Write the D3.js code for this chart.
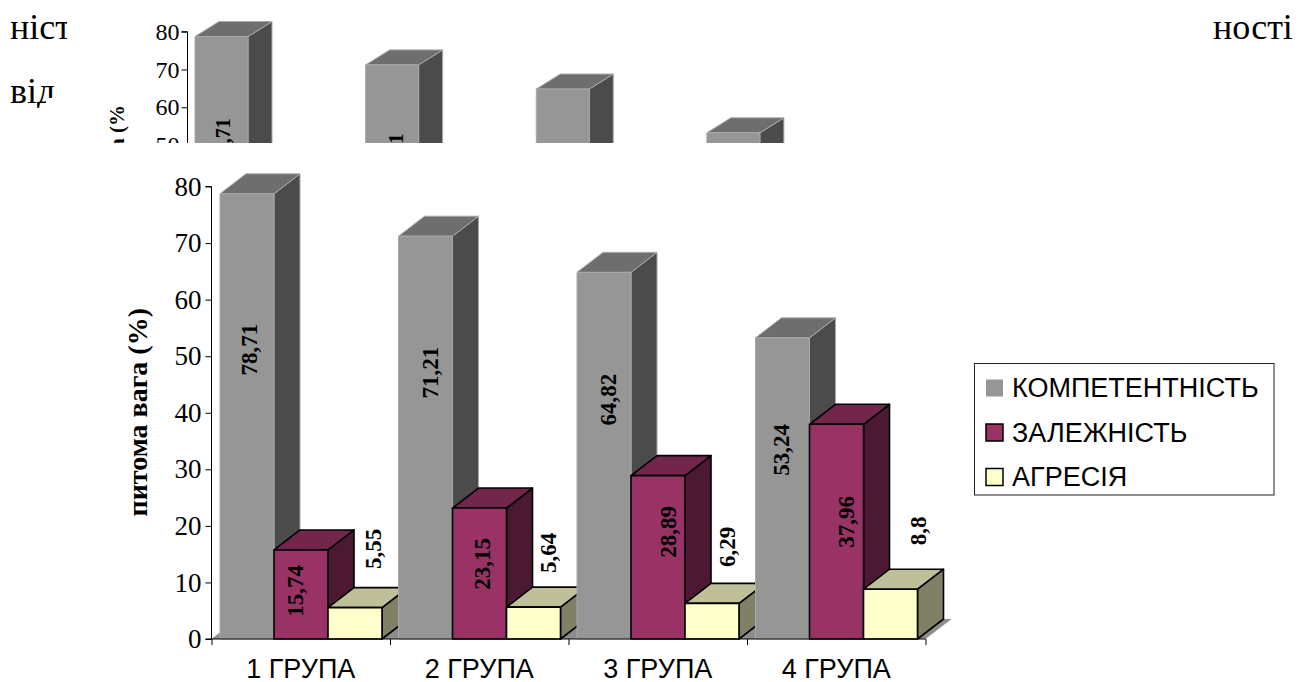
<!DOCTYPE html>
<html>
<head>
<meta charset="utf-8">
<script src="https://cdnjs.cloudflare.com/ajax/libs/d3/7.8.5/d3.min.js"></script>
<style>
html,body{margin:0;padding:0;background:#fff;}
svg{display:block;}
text{fill:#000;}
.serif{font-family:"Liberation Serif","Times New Roman",serif;}
.sans{font-family:"Liberation Sans",Arial,sans-serif;}
</style>
</head>
<body>
<svg id="c" width="1298" height="682"></svg>
<script>
// Share of each personality trait by study group, in percent.
const groups = ["1 ГРУПА", "2 ГРУПА", "3 ГРУПА", "4 ГРУПА"];
const seriesNames = ["КОМПЕТЕНТНІСТЬ", "ЗАЛЕЖНІСТЬ", "АГРЕСІЯ"];
const competence = [78.71, 71.21, 64.82, 53.24];
const dependence = [15.74, 23.15, 28.89, 37.96];
const aggression = [5.55, 5.64, 6.29, 8.8];
const yTicks = [0, 10, 20, 30, 40, 50, 60, 70, 80];
const seriesValues = [competence, dependence, aggression];

// Axis level at which each data label is centred, and its sideways offset from the bar centre.
const labelLevels = [
  [51.15, 47.08, 42.3, 33.45],
  [8.5, 13.27, 18.94, 20.7],
  [15.93, 15.22, 16.28, 19.1]
];
const labelNudges = [
  [2, 4.5, 4, -1.5],
  [-6, 2.5, 10, 9.5],
  [18, 14.5, 15, 27.5]
];
const palette = [
  {front: "#969696", top: "#6e6e6e", side: "#4b4b4b", edge: "#a8a8a8", edgeW: 1},
  {front: "#993366", top: "#72264c", side: "#4c1933", edge: "#000", edgeW: 1.6},
  {front: "#ffffcc", top: "#bfbf99", side: "#808066", edge: "#000", edgeW: 1.6}
];

const svg = d3.select("#c");
const comma = v => String(v).replace(".", ",");

function drawChart(root, o) {
  const y = d3.scaleLinear().domain([0, 80]).range([o.y0, o.y80]);
  const x = d3.scaleBand().domain(groups).range([o.x0, o.x1]);
  const inner = d3.scaleBand().domain(d3.range(seriesNames.length))
    .range([o.barOffset, o.barOffset + o.barWidth * 3]);
  const edges = d3.scaleLinear().domain([0, groups.length]).range([o.x0, o.x1]);

  // Floor of the 3D plot
  root.append("path")
    .attr("d", d3.line()([
      [o.x0, o.y0], [o.x0 + o.dx, o.y0 - o.dy],
      [o.x1 + o.dx, o.y0 - o.dy], [o.x1, o.y0]
    ]) + "Z")
    .attr("fill", "#8c8c8c");

  const bars = root.append("g");
  groups.forEach((g, gi) => {
    seriesValues.forEach((vals, si) => {
      const p = palette[si];
      const bx = x(g) + inner(si);
      const bw = inner.bandwidth();
      const ty = y(vals[gi]);
      const bar = bars.append("g")
        .attr("stroke", p.edge).attr("stroke-width", p.edgeW).attr("stroke-linejoin", "round");
      bar.append("path").attr("fill", p.side).attr("d", d3.line()([
        [bx + bw, ty], [bx + bw + o.dx, ty - o.dy], [bx + bw + o.dx, o.y0 - o.dy], [bx + bw, o.y0]
      ]) + "Z");
      bar.append("path").attr("fill", p.top).attr("d", d3.line()([
        [bx, ty], [bx + o.dx, ty - o.dy], [bx + bw + o.dx, ty - o.dy], [bx + bw, ty]
      ]) + "Z");
      bar.append("rect").attr("x", bx).attr("y", ty).attr("width", bw).attr("height", o.y0 - ty)
        .attr("fill", p.front);
    });
  });

  // Value labels, rotated along the bars
  seriesValues.forEach((vals, si) => {
    vals.forEach((v, gi) => {
      const lx = x(groups[gi]) + inner(si) + inner.bandwidth() / 2 + labelNudges[si][gi];
      root.append("text").attr("class", "serif")
        .attr("transform", `translate(${lx},${y(labelLevels[si][gi])}) rotate(-90)`)
        .attr("text-anchor", "middle").attr("dy", "0.34em")
        .attr("font-weight", "bold").attr("font-size", o.labelSize)
        .text(comma(v));
    });
  });

  // Value axis
  const yAxis = root.append("g").attr("transform", `translate(${o.x0},0)`)
    .call(d3.axisLeft(y).tickValues(yTicks).tickSize(6).tickPadding(o.tickPad).tickFormat(d3.format("d")));
  yAxis.selectAll("path,line").attr("stroke", "#000").attr("stroke-width", 1);
  yAxis.select(".domain").attr("d", `M-6,${o.y80}H0V${o.y0}H-6`);
  yAxis.selectAll("text").attr("class", "serif").attr("font-size", o.tickSize).attr("font-family", null);

  // Category axis: ticks at band edges, labels at band centres
  const tickAxis = root.append("g").attr("transform", `translate(0,${o.y0})`)
    .call(d3.axisBottom(edges).tickValues(d3.range(groups.length + 1)).tickSize(6).tickFormat(""));
  tickAxis.selectAll("path,line").attr("stroke", "#000").attr("stroke-width", 1);
  tickAxis.select(".domain").attr("d", `M${o.x0},0H${o.x1}`);
  const nameAxis = root.append("g").attr("transform", `translate(0,${o.y0})`)
    .call(d3.axisBottom(x).tickSize(0).tickPadding(o.namePad));
  nameAxis.select(".domain").remove();
  nameAxis.selectAll("text").attr("class", "sans").attr("font-size", o.nameSize).attr("font-family", null);

  // Axis title
  root.append("text").attr("class", "serif")
    .attr("transform", `translate(${o.titleX},${o.titleEnd}) rotate(-90)`)
    .attr("text-anchor", "end").attr("font-weight", "bold").attr("font-size", o.titleSize)
    .text(o.title);

  // Text that falls wholly below the cut line is never visible, so it is dropped
  if (o.cutY !== undefined) {
    root.selectAll("text")
      .filter(function () { return this.getBoundingClientRect().top >= o.cutY; })
      .remove();
  }
}

const defs = svg.append("defs");
defs.append("clipPath").attr("id", "upperCut")
  .append("rect").attr("x", 0).attr("y", 0).attr("width", 1298).attr("height", 143);
defs.append("clipPath").attr("id", "lineOne")
  .append("rect").attr("x", 0).attr("y", 0).attr("width", 67).attr("height", 60);
const lineTwo = defs.append("clipPath").attr("id", "lineTwo");
lineTwo.append("rect").attr("x", 0).attr("y", 70).attr("width", 46).attr("height", 38);
lineTwo.append("rect").attr("x", 46).attr("y", 70).attr("width", 20).attr("height", 28);

// Cut-off copy of the chart at the top of the page
drawChart(svg.append("g").attr("clip-path", "url(#upperCut)"), {
  x0: 187.5, x1: 870, y0: 334, y80: 31.7, dx: 24, dy: 15,
  barOffset: 7.5, barWidth: 53, cutY: 143,
  labelSize: 20, tickSize: 24, tickPad: 2, nameSize: 24, namePad: 18,
  titleX: 124, titleEnd: 105, titleSize: 21, title: "питома вага (%"
});

// Main chart
drawChart(svg.append("g"), {
  x0: 211.5, x1: 925.5, y0: 639, y80: 186.5, dx: 26, dy: 20,
  barOffset: 8.5, barWidth: 54,
  labelSize: 23, tickSize: 27, tickPad: 4, nameSize: 27, namePad: 20,
  titleX: 147, titleEnd: 308, titleSize: 28, title: "питома вага (%)"
});

// Running text around the upper chart
const bodyText = [
  {t: "ніст", x: 10, y: 39, clip: "url(#lineOne)"},
  {t: "від", x: 10, y: 103, clip: "url(#lineTwo)"},
  {t: "ності", x: 1213, y: 39, clip: null}
];
svg.selectAll("text.body").data(bodyText).join("text")
  .attr("class", "body serif").attr("x", d => d.x).attr("y", d => d.y)
  .attr("font-size", 36).attr("clip-path", d => d.clip).text(d => d.t);

// Legend
const legend = svg.append("g");
legend.append("rect").attr("x", 974.5).attr("y", 363.5).attr("width", 299.5).attr("height", 131.5)
  .attr("fill", "#fff").attr("stroke", "#222").attr("stroke-width", 1);
const legendRow = d3.scalePoint().domain(seriesNames).range([397, 486]);
seriesNames.forEach((name, i) => {
  const p = palette[i];
  legend.append("rect").attr("x", 986).attr("y", legendRow(name) - 17.5).attr("width", 17).attr("height", 17)
    .attr("fill", p.front).attr("stroke", i ? "#000" : "none").attr("stroke-width", 1.5);
  legend.append("text").attr("class", "sans").attr("x", 1012).attr("y", legendRow(name))
    .attr("font-size", 27).text(name);
});
</script>
</body>
</html>
